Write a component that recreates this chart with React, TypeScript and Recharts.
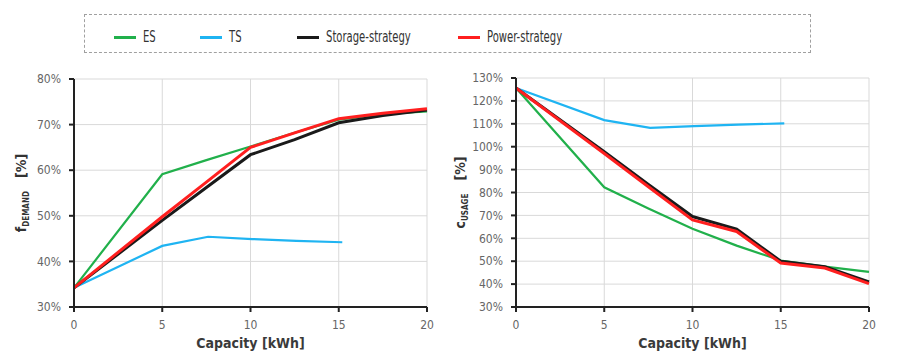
import React from "react";
import { LineChart, Line, XAxis, YAxis, CartesianGrid } from "recharts";

// ---- Data ----
const capacity = [0, 5, 7.5, 10, 12.5, 15, 17.5, 20];
const tsCapacity = [0, 5, 7.6, 10.1, 12.6, 15.2];

const esDemand = [34.2, 59.1, 62.2, 65.2, 68.2, 71.1, 72.3, 72.9];
const tsDemand = [34.2, 43.4, 45.4, 44.9, 44.5, 44.2];
const storageDemand = [34.2, 49.0, 56.2, 63.4, 66.7, 70.4, 72.0, 73.2];
const powerDemand = [34.2, 49.8, 57.4, 65.0, 68.2, 71.3, 72.5, 73.5];

const esUsage = [125.6, 82.3, 73.0, 64.2, 56.8, 50.3, 47.6, 45.3];
const tsUsage = [125.6, 111.6, 108.2, 109.0, 109.6, 110.2];
const storageUsage = [125.6, 97.8, 83.5, 69.5, 64.0, 50.0, 47.6, 40.9];
const powerUsage = [125.6, 97.0, 82.5, 68.0, 63.0, 49.2, 47.0, 40.2];

const xTicks = [0, 5, 10, 15, 20];
const demandTicks = [30, 40, 50, 60, 70, 80];
const usageTicks = [30, 40, 50, 60, 70, 80, 90, 100, 110, 120, 130];

const seriesNames = ["ES", "TS", "Storage-strategy", "Power-strategy"];
const seriesColors = ["#21b04b", "#1fb4f2", "#1a1a1a", "#ff1f1f"];

const FONT = "'Liberation Sans Narrow', 'DejaVu Sans Condensed', 'Roboto', sans-serif";

const toRows = (xs: number[], ys: number[]) => xs.map((x, i) => ({ x, y: ys[i] }));

type PanelProps = {
  left: number;
  marginLeft: number;
  marginRight: number;
  marginTop: number;
  yTicks: number[];
  es: number[];
  ts: number[];
  storage: number[];
  power: number[];
  labelMain: string;
  labelSub: string;
  labelX: number;
};

function Panel(p: PanelProps) {
  const yLabel = (props: any) => {
    const vb = props.viewBox;
    const cy = vb.y + vb.height / 2;
    const x = p.labelX;
    return (
      <text
        x={x}
        y={cy}
        transform={`rotate(-90, ${x}, ${cy})`}
        textAnchor="middle"
        fill="#333"
        fontFamily={FONT}
        fontWeight="bold"
        fontSize={14}
      >
        <tspan>{p.labelMain}</tspan>
        <tspan fontSize={8} dy={3}>{p.labelSub}</tspan>
        <tspan dy={-3}>{"\u00a0\u00a0\u00a0[%]"}</tspan>
      </text>
    );
  };
  const xLabel = (props: any) => {
    const vb = props.viewBox;
    return (
      <text
        x={vb.x + vb.width / 2}
        y={vb.y + 41}
        textAnchor="middle"
        fill="#3a3a3a"
        fontFamily={FONT}
        fontWeight="bold"
        fontSize={14}
      >
        Capacity [kWh]
      </text>
    );
  };
  const seriesData = [
    toRows(capacity, p.es),
    toRows(tsCapacity, p.ts),
    toRows(capacity, p.storage),
    toRows(capacity, p.power),
  ];
  const widths = [2.2, 2.2, 3, 3];
  return (
    <div style={{ position: "absolute", left: p.left, top: 60 }}>
      <LineChart
        width={450}
        height={299}
        margin={{ top: p.marginTop, right: p.marginRight, left: p.marginLeft, bottom: 22 }}
      >
        <CartesianGrid stroke="#d9d9d9" strokeWidth={1} />
        <XAxis
          type="number"
          dataKey="x"
          domain={[0, 20]}
          ticks={xTicks}
          interval={0}
          height={30}
          stroke="#222"
          strokeWidth={2}
          tickSize={5}
          tickMargin={8}
          tick={{ fill: "#666", fontSize: 12, fontFamily: FONT }}
          label={{ content: xLabel }}
        />
        <YAxis
          type="number"
          domain={[p.yTicks[0], p.yTicks[p.yTicks.length - 1]]}
          ticks={p.yTicks}
          interval={0}
          width={50}
          stroke="#222"
          strokeWidth={2}
          tickSize={5}
          tickMargin={8}
          tickFormatter={(v: number) => `${v}%`}
          tick={{ fill: "#666", fontSize: 12, fontFamily: FONT }}
          label={{ content: yLabel }}
        />
        {seriesData.map((d, i) => (
          <Line
            key={seriesNames[i]}
            data={d}
            dataKey="y"
            type="linear"
            stroke={seriesColors[i]}
            strokeWidth={widths[i]}
            dot={false}
            activeDot={false}
            isAnimationActive={false}
          />
        ))}
      </LineChart>
    </div>
  );
}

const legendPositions = [114, 200, 297, 458];

export default function App() {
  return (
    <div style={{ position: "absolute", left: 0, top: 0, width: 900, height: 359, background: "#fff", overflow: "hidden" }}>
      <div
        style={{
          position: "absolute",
          left: 84,
          top: 14,
          width: 727,
          height: 39,
          border: "1px dashed #a0a0a0",
          boxSizing: "border-box",
        }}
      />
      {seriesNames.map((name, i) => (
        <div
          key={name}
          style={{
            position: "absolute",
            left: legendPositions[i],
            top: 25,
            height: 24,
            display: "flex",
            alignItems: "center",
            fontFamily: FONT,
            fontSize: 15.5,
            color: "#333",
            whiteSpace: "nowrap",
          }}
        >
          <span style={{ display: "inline-block", width: 22, height: 3, background: seriesColors[i], marginRight: 7 }} />
          <span style={{ display: "inline-block", transform: "scaleX(0.72)", transformOrigin: "left center" }}>{name}</span>
        </div>
      ))}
      <Panel
        left={0}
        marginLeft={24}
        marginRight={23}
        marginTop={19}
        yTicks={demandTicks}
        es={esDemand}
        ts={tsDemand}
        storage={storageDemand}
        power={powerDemand}
        labelMain="f"
        labelSub="DEMAND"
        labelX={26}
      />
      <Panel
        left={450}
        marginLeft={16}
        marginRight={31}
        marginTop={18}
        yTicks={usageTicks}
        es={esUsage}
        ts={tsUsage}
        storage={storageUsage}
        power={powerUsage}
        labelMain="c"
        labelSub="USAGE"
        labelX={15}
      />
    </div>
  );
}
